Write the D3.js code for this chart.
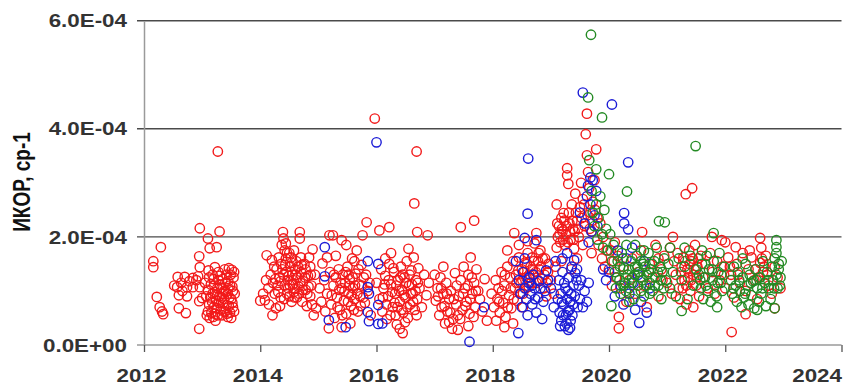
<!DOCTYPE html>
<html>
<head>
<meta charset="utf-8">
<script src="https://cdn.jsdelivr.net/npm/d3@7"></script>
<style>
  body { margin: 0; background: #fff; }
  svg text { font-family: "Liberation Sans", Arial, sans-serif; }
  .tick-label { font-size: 17.5px; font-weight: bold; fill: #333; }
  .title { font-size: 19px; font-weight: bold; fill: #111; }
  .dot { fill: none; stroke-width: 1.4; }
</style>
</head>
<body>
<div id="chart"></div>
<script>
// values are [year, ИКОР in units of 1e-4]
var redPts = [
  [2012.16,1.55],[2012.16,1.44],[2012.29,1.81],[2012.22,0.89],[2012.27,0.70],[2012.33,0.57],[2012.31,0.62],
  [2012.58,1.26],[2012.70,1.26],[2012.57,1.07],[2012.74,1.07],[2012.60,0.92],[2012.74,0.90],[2012.84,1.07],
  [2012.84,1.24],[2012.64,1.15],[2012.78,1.18],[2012.66,1.00],[2012.52,1.10],[2012.96,1.07],[2012.93,1.27],
  [2012.96,1.44],[2012.95,1.64],[2013.10,1.97],[2013.13,1.79],[2013.25,1.81],[2013.30,2.10],[2012.96,2.16],
  [2013.22,1.44],[2012.60,0.68],[2012.72,0.59],[2012.95,0.30],[2012.95,0.81],[2013.00,0.87],[2013.27,3.58],
  [2012.90,1.20],[2013.05,1.15],
  [2013.08,0.55],[2013.10,0.62],[2013.12,0.75],[2013.14,0.88],[2013.10,1.02],[2013.15,1.12],[2013.18,0.95],
  [2013.20,0.70],[2013.22,0.58],[2013.24,0.82],[2013.26,1.05],[2013.28,1.20],[2013.30,0.90],[2013.32,0.66],
  [2013.34,0.55],[2013.36,0.78],[2013.38,1.00],[2013.40,1.15],[2013.42,1.30],[2013.44,0.95],[2013.46,0.72],
  [2013.48,0.60],[2013.50,0.85],[2013.52,1.08],[2013.54,1.25],[2013.46,1.42],[2013.51,1.39],[2013.53,0.70],
  [2013.44,0.52],[2013.13,0.50],[2013.27,0.55],[2013.18,1.30],[2013.28,1.35],[2013.35,1.22],[2013.40,0.62],
  [2013.48,1.10],[2013.56,0.95],[2013.20,1.22],[2013.33,1.05],[2013.45,1.18],[2013.38,0.85],[2013.25,0.68],
  [2013.16,0.60],[2013.50,0.50],[2013.42,0.74],[2013.30,1.12],[2013.55,1.35],[2013.12,1.25],[2013.22,0.98],
  [2013.36,0.95],
  [2013.07,0.90],[2013.11,1.38],[2013.17,0.80],[2013.21,1.10],[2013.23,0.45],[2013.29,0.78],[2013.31,1.28],
  [2013.37,0.62],[2013.39,1.40],[2013.41,0.98],[2013.43,0.58],[2013.47,0.88],[2013.49,1.30],[2013.53,1.00],
  [2013.55,0.62],[2013.26,0.92],[2013.34,0.88],[2013.19,0.52],[2013.52,0.78],[2013.45,1.05],
  [2014.00,0.82],[2014.05,0.95],[2014.08,0.83],[2014.11,1.66],[2014.20,1.57],[2014.21,0.55],[2014.27,0.68],
  [2014.10,1.20],[2014.14,1.05],[2014.18,1.30],[2014.22,1.15],[2014.25,0.95],[2014.28,1.40],[2014.30,1.10],
  [2014.33,1.25],[2014.35,0.88],[2014.36,1.50],[2014.39,2.09],[2014.40,1.97],[2014.37,1.85],[2014.42,1.75],
  [2014.44,1.60],[2014.45,1.35],[2014.47,1.20],[2014.48,1.05],[2014.50,0.90],[2014.52,1.45],[2014.53,1.62],
  [2014.55,1.30],[2014.56,1.12],[2014.58,0.98],[2014.60,1.40],[2014.62,1.55],[2014.64,1.25],[2014.66,1.08],
  [2014.68,2.09],[2014.68,1.97],[2014.70,1.35],[2014.72,0.80],[2014.74,1.18],[2014.76,1.50],[2014.78,1.02],
  [2014.80,0.72],[2014.82,1.28],[2014.84,1.62],[2014.86,0.90],[2014.88,1.10],[2014.90,1.77],[2014.92,0.55],
  [2014.94,1.30],[2014.96,0.68],[2014.40,1.30],[2014.46,0.95],[2014.54,0.80],[2014.32,1.62],[2014.42,1.10],
  [2014.58,1.75],[2014.63,0.88],[2014.70,1.62],[2014.24,1.45],[2014.15,0.75],[2014.34,0.72],[2014.50,1.70],
  [2014.78,1.40],[2014.86,1.45],
  [2014.31,0.98],[2014.35,1.18],[2014.38,1.40],[2014.41,0.85],[2014.43,1.48],[2014.46,1.70],[2014.49,1.28],
  [2014.51,1.10],[2014.54,1.52],[2014.57,1.20],[2014.59,0.88],[2014.61,1.30],[2014.65,1.45],[2014.67,0.95],
  [2014.69,1.15],[2014.71,1.48],[2014.73,1.02],[2014.77,1.25],[2014.81,0.95],[2014.83,1.08],[2014.87,1.30],
  [2014.89,0.75],[2014.26,1.22],[2014.44,1.88],[2014.60,1.05],
  [2015.07,1.51],[2015.02,1.05],[2015.05,0.80],[2015.19,2.03],[2015.25,2.03],[2015.40,1.94],[2015.76,2.03],
  [2015.83,2.27],[2015.10,1.20],[2015.12,0.62],[2015.15,0.95],[2015.20,1.35],[2015.22,0.75],[2015.26,1.10],
  [2015.28,0.50],[2015.30,1.25],[2015.32,0.88],[2015.35,1.40],[2015.37,0.65],[2015.40,1.05],[2015.42,1.30],
  [2015.44,0.82],[2015.46,1.15],[2015.48,0.58],[2015.50,1.45],[2015.52,0.95],[2015.54,1.22],[2015.56,0.72],
  [2015.58,1.60],[2015.60,1.05],[2015.62,0.85],[2015.64,1.32],[2015.66,1.75],[2015.68,0.62],[2015.70,1.12],
  [2015.72,0.90],[2015.74,1.48],[2015.78,1.25],[2015.80,0.78],[2015.85,1.00],[2015.90,0.55],[2015.18,0.31],
  [2015.40,0.33],[2015.30,1.65],[2015.48,1.85],[2015.55,0.40],[2015.62,1.55],[2015.36,1.02],[2015.52,1.30],
  [2015.15,1.62],
  [2015.23,0.92],[2015.27,1.30],[2015.33,0.70],[2015.38,1.15],[2015.41,0.55],[2015.45,1.00],[2015.47,1.35],
  [2015.51,0.80],[2015.53,1.10],[2015.57,0.92],[2015.59,1.25],[2015.61,0.65],[2015.63,1.10],[2015.67,0.95],
  [2015.69,1.40],[2015.73,0.72],[2015.75,1.10],[2015.77,0.88],[2015.82,1.30],[2015.88,1.15],
  [2015.97,4.19],[2016.69,3.58],[2016.65,2.62],[2016.05,2.12],[2016.22,2.18],[2016.70,2.09],[2016.88,2.03],
  [2016.45,0.22],[2016.00,1.15],[2016.05,0.85],[2016.08,1.40],[2016.10,0.62],[2016.12,1.05],[2016.15,1.28],
  [2016.18,0.48],[2016.20,0.90],[2016.22,1.50],[2016.25,1.12],[2016.28,0.70],[2016.30,1.35],[2016.32,0.95],
  [2016.35,0.38],[2016.37,1.20],[2016.40,0.80],[2016.42,1.45],[2016.44,1.02],[2016.46,0.60],[2016.48,1.25],
  [2016.50,0.88],[2016.52,1.55],[2016.54,0.50],[2016.56,1.10],[2016.58,0.75],[2016.60,1.38],[2016.62,0.95],
  [2016.64,1.62],[2016.66,0.65],[2016.68,1.20],[2016.70,0.85],[2016.72,1.42],[2016.74,1.05],[2016.78,0.70],
  [2016.82,1.30],[2016.86,0.92],[2016.90,1.15],[2016.40,0.30],[2016.25,1.70],[2016.55,1.78],[2016.33,0.55],
  [2016.15,1.60],
  [2016.11,0.88],[2016.14,1.12],[2016.17,0.75],[2016.21,1.20],[2016.24,0.55],[2016.27,0.98],[2016.29,1.42],
  [2016.31,0.78],[2016.34,1.10],[2016.36,0.70],[2016.39,1.00],[2016.41,1.25],[2016.43,0.65],[2016.45,1.30],
  [2016.47,0.92],[2016.49,0.42],[2016.51,1.15],[2016.53,0.70],[2016.57,1.30],[2016.59,0.95],[2016.61,1.12],
  [2016.63,0.80],[2016.67,1.00],[2016.69,0.55],[2016.71,1.15],
  [2017.45,2.18],[2017.68,2.30],[2017.00,1.30],[2017.02,0.82],[2017.05,1.05],[2017.08,0.55],[2017.10,1.25],
  [2017.12,0.70],[2017.15,0.95],[2017.18,0.40],[2017.20,1.15],[2017.22,0.62],[2017.25,0.85],[2017.28,1.00],
  [2017.30,0.30],[2017.32,0.48],[2017.35,1.33],[2017.37,0.75],[2017.40,0.55],[2017.42,0.90],[2017.45,1.20],
  [2017.48,0.65],[2017.50,1.45],[2017.52,1.05],[2017.55,0.80],[2017.58,1.30],[2017.60,0.58],[2017.62,1.62],
  [2017.65,0.95],[2017.68,1.15],[2017.70,0.70],[2017.72,1.40],[2017.75,1.00],[2017.78,0.85],[2017.82,0.62],
  [2017.86,1.22],[2017.90,0.45],[2017.40,0.28],[2017.25,0.42],[2017.58,0.35],[2017.15,1.45],
  [2017.06,0.90],[2017.11,1.05],[2017.17,0.72],[2017.21,0.95],[2017.27,0.60],[2017.33,0.85],[2017.38,1.10],
  [2017.44,0.48],[2017.49,0.95],[2017.53,0.72],[2017.57,1.10],[2017.61,0.85],[2017.64,1.25],[2017.67,0.52],
  [2017.71,1.00],
  [2018.37,2.07],[2018.75,2.07],[2017.98,0.95],[2018.02,0.70],[2018.05,1.20],[2018.06,0.45],[2018.08,0.85],
  [2018.10,1.05],[2018.12,0.60],[2018.15,1.35],[2018.18,0.78],[2018.20,1.10],[2018.22,0.52],[2018.25,1.45],
  [2018.28,0.92],[2018.30,1.25],[2018.32,0.68],[2018.35,1.55],[2018.38,1.05],[2018.40,1.30],[2018.42,0.82],
  [2018.45,1.62],[2018.48,1.15],[2018.50,1.40],[2018.52,0.95],[2018.55,1.52],[2018.58,1.25],[2018.60,1.70],
  [2018.62,1.08],[2018.65,1.45],[2018.68,1.62],[2018.70,1.30],[2018.72,1.88],[2018.75,1.15],[2018.78,1.55],
  [2018.80,1.40],[2018.82,1.75],[2018.85,1.22],[2018.88,1.05],[2018.90,1.60],[2018.92,0.90],[2018.95,1.35],
  [2018.35,0.40],[2018.20,0.33],[2018.60,1.92],[2018.45,1.85],[2018.25,1.75],[2018.52,0.70],
  [2018.11,0.80],[2018.16,1.00],[2018.21,1.30],[2018.26,0.70],[2018.31,1.05],[2018.36,0.85],[2018.41,1.15],
  [2018.44,1.38],[2018.47,0.95],[2018.51,1.20],[2018.54,1.35],[2018.57,1.05],[2018.59,1.50],[2018.63,1.30],
  [2018.66,1.15],[2018.69,1.40],[2018.71,1.55],[2018.74,1.35],[2018.77,1.20],[2018.79,1.70],[2018.83,1.45],
  [2018.86,1.60],[2018.89,1.30],[2018.93,1.15],[2018.96,1.50],
  [2019.00,1.20],[2019.05,0.95],[2019.08,1.45],[2019.10,1.80],[2019.12,2.00],[2019.14,2.20],[2019.16,1.90],
  [2019.18,2.35],[2019.20,2.10],[2019.22,2.44],[2019.24,1.85],[2019.26,2.05],[2019.28,3.27],[2019.28,3.14],
  [2019.30,2.98],[2019.32,2.25],[2019.34,1.95],[2019.36,2.60],[2019.38,2.15],[2019.40,1.78],[2019.42,2.80],
  [2019.45,2.30],[2019.48,2.00],[2019.50,2.55],[2019.52,3.00],[2019.55,2.70],[2019.58,2.20],[2019.60,3.90],
  [2019.62,4.28],[2019.62,3.51],[2019.64,3.20],[2019.66,2.90],[2019.68,2.45],[2019.70,2.10],[2019.72,2.65],
  [2019.75,3.05],[2019.78,3.62],[2019.80,2.35],[2019.82,1.85],[2019.85,2.25],[2019.88,1.60],[2019.90,2.00],
  [2019.93,1.45],[2019.96,1.75],[2019.18,1.55],[2019.35,1.40],[2019.10,2.60],[2019.45,1.60],[2019.55,1.85],
  [2019.70,1.70],
  [2019.11,2.25],[2019.15,2.05],[2019.19,2.15],[2019.21,1.95],[2019.23,2.30],[2019.27,2.20],[2019.29,1.90],
  [2019.31,2.45],[2019.33,2.10],[2019.37,2.30],[2019.39,1.95],[2019.41,2.10],[2019.43,2.45],[2019.47,2.15],
  [2019.53,2.35],[2019.57,2.60],[2019.63,2.40],[2019.67,2.15],[2019.71,2.30],[2019.76,2.50],
  [2020.57,2.09],[2021.43,2.90],[2021.32,2.79],[2020.17,0.52],[2020.17,0.31],[2022.11,0.24],[2022.35,0.57],
  [2021.77,2.00],[2021.94,1.94],[2022.00,1.90],[2022.18,1.81],[2022.60,1.98],[2022.85,0.68],
  [2020.00,1.40],[2020.03,1.75],[2020.05,1.10],[2020.08,1.55],[2020.10,1.90],[2020.12,1.25],[2020.15,1.65],
  [2020.20,1.05],[2020.25,1.45],[2020.30,0.80],[2020.35,1.20],[2020.40,1.60],[2020.45,0.95],[2020.50,1.35],
  [2020.55,1.75],[2020.60,1.10],[2020.65,0.70],[2020.70,1.50],[2020.75,1.25],[2020.80,1.85],[2020.85,0.90],
  [2020.90,1.40],[2020.95,1.65],[2021.00,1.15],[2021.05,1.80],[2021.08,0.95],[2021.12,1.55],[2021.15,1.30],
  [2021.18,1.70],[2021.20,1.05],[2021.22,0.85],[2021.25,1.45],[2021.28,1.62],[2021.30,1.20],[2021.33,0.75],
  [2021.35,1.40],[2021.38,1.75],[2021.40,1.00],[2021.42,1.55],[2021.45,1.30],[2021.48,1.85],[2021.50,1.10],
  [2021.52,1.45],[2021.55,0.90],[2021.58,1.65],[2021.62,1.25],[2021.66,1.50],[2021.70,1.05],[2021.74,1.70],
  [2021.78,1.35],[2021.82,0.95],[2021.86,1.55],[2021.90,1.20],[2021.95,1.45],[2022.00,1.05],[2022.05,1.62],
  [2022.10,1.30],[2022.15,0.88],[2022.20,1.50],[2022.25,1.15],[2022.30,1.70],[2022.35,1.00],[2022.40,1.40],
  [2022.45,1.62],[2022.50,1.20],[2022.55,0.85],[2022.60,1.52],[2022.65,1.35],[2022.70,1.65],[2022.75,1.10],
  [2022.80,0.95],[2022.85,1.45],[2022.90,1.25],[2022.95,1.05],[2021.33,1.10],[2021.45,0.70],[2022.62,1.80],
  [2022.42,1.75],[2021.10,2.00],
  [2021.24,1.35],[2021.27,1.05],[2021.31,1.55],[2021.36,1.25],[2021.39,1.50],[2021.41,1.20],[2021.44,1.60],
  [2021.47,1.40],[2021.51,1.25],[2021.54,1.60],[2022.52,1.40],[2022.57,1.25],[2022.63,1.60],[2022.67,1.45],
  [2022.72,1.30],[2021.98,1.30],[2022.08,1.45],[2022.22,1.30],[2020.85,1.60],[2020.92,1.20]
];

var bluePts = [
  [2015.11,1.81],[2015.11,1.27],[2015.18,0.46],[2015.47,0.33],[2015.85,1.55],[2016.03,1.50],[2015.85,1.07],
  [2015.87,0.95],[2016.03,0.74],[2015.85,0.61],[2015.87,0.44],[2016.03,0.39],[2016.10,0.40],[2016.00,3.75],
  [2017.60,0.06],[2017.85,0.70],[2018.44,0.22],[2018.60,2.43],[2018.61,3.45],[2018.55,1.98],[2018.75,1.94],
  [2018.45,1.20],[2018.48,0.95],[2018.50,0.70],[2018.52,1.35],[2018.55,1.05],[2018.58,0.85],[2018.60,0.55],
  [2018.62,1.15],[2018.65,0.95],[2018.68,0.75],[2018.70,1.30],[2018.72,1.05],[2018.75,0.60],[2018.78,0.88],
  [2018.80,1.18],[2018.85,0.48],[2018.90,1.00],[2018.92,1.38],[2018.55,1.60],[2018.40,1.55],
  [2018.63,1.25],[2018.67,1.10],[2018.73,0.85],[2018.82,1.05],[2018.87,0.80],[2018.95,1.20],
  [2019.00,1.05],[2019.05,0.70],[2019.08,1.55],[2019.12,0.85],[2019.14,1.20],[2019.15,0.60],[2019.17,0.95],
  [2019.18,0.45],[2019.20,1.35],[2019.22,0.75],[2019.24,0.35],[2019.25,1.05],[2019.26,0.55],[2019.28,0.85],
  [2019.30,0.28],[2019.31,1.25],[2019.32,0.65],[2019.34,0.45],[2019.35,0.95],[2019.36,1.45],[2019.38,0.75],
  [2019.40,1.57],[2019.42,1.33],[2019.45,1.40],[2019.48,1.10],[2019.50,0.85],[2019.52,1.20],[2019.55,0.70],
  [2019.58,1.00],[2019.62,0.80],[2019.65,1.15],[2019.28,1.70],[2019.20,1.60],
  [2019.16,0.35],[2019.19,0.80],[2019.21,0.55],[2019.23,1.15],[2019.27,0.40],[2019.29,0.62],[2019.29,1.00],
  [2019.33,0.32],[2019.33,0.80],[2019.37,0.55],[2019.39,1.10],[2019.41,0.90],[2019.44,1.20],[2019.46,0.70],
  [2019.55,4.67],[2020.05,4.45],[2019.64,2.95],[2019.68,2.60],[2019.72,3.05],[2019.58,2.25],[2019.70,2.10],
  [2019.75,2.40],[2019.78,2.85],[2019.62,2.75],[2019.50,2.45],[2019.80,2.20],[2019.65,1.90],[2020.33,3.38],
  [2019.68,3.10],
  [2020.26,2.44],[2020.26,2.25],[2020.33,2.14],[2020.52,0.41],[2019.95,1.20],[2020.00,1.35],[2020.10,0.90],
  [2020.20,1.10],[2020.25,0.75],[2020.30,1.60],[2020.35,0.95],[2020.40,1.80],[2020.45,0.65],[2020.50,1.30],
  [2020.55,0.80],[2020.60,1.55],[2020.65,0.60],[2020.70,1.05],[2020.15,1.75],[2020.42,1.15],[2019.90,1.40]
];

var greenPts = [
  [2019.69,5.74],[2019.64,4.58],[2019.88,4.21],[2021.49,3.68],[2019.66,3.42],[2019.78,3.25],[2020.00,3.16],
  [2020.31,2.84],[2020.86,2.29],[2020.96,2.27],[2021.80,2.07],[2022.88,1.94],[2022.88,1.81],[2021.86,0.70],
  [2022.85,0.68],[2020.04,0.72],[2021.25,0.63],
  [2019.70,2.85],[2019.72,2.45],[2019.75,2.20],[2019.78,2.60],[2019.80,1.95],[2019.82,2.35],[2019.85,2.75],
  [2019.88,2.05],[2019.90,1.80],[2019.92,2.50],[2019.95,2.15],[2019.98,1.75],[2020.02,2.05],[2020.05,1.55],
  [2020.08,1.85],
  [2020.10,1.35],[2020.12,1.05],[2020.15,1.55],[2020.18,1.20],[2020.20,0.95],[2020.22,1.70],[2020.25,1.40],
  [2020.28,1.15],[2020.30,1.85],[2020.32,1.30],[2020.35,1.05],[2020.38,1.55],[2020.40,1.25],[2020.42,0.85],
  [2020.45,1.45],[2020.48,1.65],[2020.50,1.10],[2020.52,1.35],[2020.55,1.55],[2020.58,1.20],[2020.60,0.90],
  [2020.62,1.45],[2020.65,1.30],[2020.68,1.70],[2020.70,1.15],[2020.72,1.40],[2020.75,1.00],[2020.78,1.55],
  [2020.80,1.25],[2020.82,1.80],[2020.85,1.10],[2020.88,1.45],[2020.90,0.85],[2020.92,1.35],[2020.95,1.60],
  [2020.98,1.20],[2020.45,1.85],[2020.60,1.75],[2020.35,0.80],[2020.70,0.95],[2020.55,1.00],[2020.25,1.10],
  [2020.14,1.25],[2020.19,1.45],[2020.24,1.60],[2020.29,1.00],[2020.34,1.40],[2020.39,1.15],[2020.44,1.30],
  [2020.49,1.45],[2020.54,1.25],[2020.59,1.50],[2020.64,1.10],[2020.69,1.35],[2020.74,1.50],[2020.79,1.10],
  [2020.84,1.35],[2020.89,1.20],[2020.94,1.05],
  [2021.02,1.50],[2021.05,1.05],[2021.10,1.35],[2021.15,0.90],[2021.20,1.60],[2021.25,1.20],[2021.30,1.45],
  [2021.35,0.85],[2021.40,1.65],[2021.45,1.10],[2021.50,1.40],[2021.05,1.80],[2021.30,1.80],
  [2021.55,1.30],[2021.58,1.05],[2021.60,1.50],[2021.62,0.85],[2021.65,1.25],[2021.68,1.65],[2021.70,1.00],
  [2021.72,1.40],[2021.75,0.80],[2021.78,1.20],[2021.80,1.55],[2021.82,1.10],[2021.85,0.90],[2021.88,1.35],
  [2021.90,1.70],[2021.92,1.15],[2021.95,1.00],[2021.98,1.45],[2021.60,1.75],
  [2021.57,1.20],[2021.67,1.10],[2021.77,1.40],[2021.87,1.15],[2021.93,1.30],
  [2022.10,1.20],[2022.12,0.95],[2022.15,1.45],[2022.18,1.10],[2022.20,0.80],[2022.22,1.35],[2022.25,1.00],
  [2022.28,0.70],[2022.30,1.25],[2022.32,0.88],[2022.35,1.50],[2022.38,1.10],[2022.40,0.75],[2022.42,1.30],
  [2022.45,0.92],[2022.48,1.18],[2022.50,0.68],[2022.52,1.40],[2022.55,1.05],[2022.58,0.80],[2022.60,1.25],
  [2022.62,0.95],[2022.65,1.55],[2022.68,1.15],[2022.70,0.72],[2022.72,1.35],[2022.75,1.05],[2022.78,0.85],
  [2022.80,1.45],[2022.82,1.20],[2022.85,1.60],[2022.88,1.30],[2022.90,1.05],[2022.92,1.50],[2022.95,1.25],
  [2022.88,1.70],[2022.92,1.40],[2022.55,0.65],[2022.30,1.60],
  [2022.14,1.05],[2022.24,1.20],[2022.34,0.95],[2022.44,1.15],[2022.54,1.20],[2022.64,1.05],[2022.74,1.20],
  [2022.84,1.05],[2022.94,1.10],[2022.97,1.55]
];

var xTicks = [2012, 2014, 2016, 2018, 2020, 2022, 2024];
var yTicks = [0, 2e-4, 4e-4, 6e-4];
var yTickLabels = ["0.0E+00", "2.0E-04", "4.0E-04", "6.0E-04"];
var yTitle = "ИКОР, ср-1";

var series = [
    { name: "red", color: "#f21a1a", pts: redPts },
    { name: "blue", color: "#1c1cd6", pts: bluePts },
    { name: "green", color: "#238a23", pts: greenPts }
];

var margin = {top: 20.7, right: 20.5, bottom: 40, left: 144};
var width = 862 - margin.left - margin.right,
    height = 385 - margin.top - margin.bottom;
var stretch = 1.28; // the source text is drawn wide

var svg = d3.select("#chart")
    .append("svg")
    .attr("width", 862)
    .attr("height", 385)
    .append("g")
    .attr("transform", "translate(" + margin.left + "," + margin.top + ")");

var xScale = d3.scaleLinear().domain([2012, 2024]).range([0, width]);
var yScale = d3.scaleLinear().domain([0, 6e-4]).range([height, 0]);

// grid lines (the 0 line is the x axis itself)
svg.selectAll(".grid")
    .data(yTicks.slice(1))
    .enter().append("line")
    .attr("class", "grid")
    .attr("x1", -7)
    .attr("x2", width)
    .attr("y1", function(d) { return yScale(d); })
    .attr("y2", function(d) { return yScale(d); })
    .attr("stroke", "#4a4a4a")
    .attr("stroke-width", 1.4);

var yAxis = d3.axisLeft(yScale)
    .tickValues(yTicks)
    .tickSize(0)
    .tickPadding(0)
    .tickFormat(function(d, i) { return yTickLabels[i]; });

var yAxisGroup = svg.append("g")
    .attr("class", "y axis")
    .call(yAxis);
yAxisGroup.select(".domain")
    .attr("stroke", "#9a9a9a")
    .attr("stroke-width", 1.5);
yAxisGroup.selectAll("text")
    .attr("class", "tick-label")
    .attr("x", -17 / stretch)
    .attr("dy", "0.35em")
    .attr("transform", "scale(" + stretch + ",1)");

var xAxis = d3.axisBottom(xScale)
    .tickValues(xTicks)
    .tickSize(7)
    .tickPadding(18)
    .tickFormat(d3.format("d"));

var xAxisGroup = svg.append("g")
    .attr("class", "x axis")
    .attr("transform", "translate(0," + height + ")")
    .call(xAxis);
xAxisGroup.select(".domain")
    .attr("d", "M-7,0H" + width)
    .attr("stroke", "#9a9a9a")
    .attr("stroke-width", 1.5);
xAxisGroup.selectAll(".tick line")
    .attr("stroke", "#555")
    .attr("stroke-width", 1.3);
xAxisGroup.selectAll("text")
    .attr("class", "tick-label")
    .attr("x", -3 / stretch)
    .attr("transform", "scale(" + stretch + ",1)");
// last label is pulled in so it stays inside the frame
xAxisGroup.selectAll("text")
    .filter(function(d) { return d === 2024; })
    .attr("text-anchor", "end")
    .attr("x", 0);

svg.append("text")
    .attr("class", "title")
    .attr("text-anchor", "middle")
    .attr("transform", "translate(" + (30 - margin.left) + "," + (182 - margin.top) + ") scale(" + stretch + ",1) rotate(-90)")
    .text(yTitle);

series.forEach(function(s) {
    svg.append("g")
        .attr("class", "series " + s.name)
        .selectAll("circle")
        .data(s.pts)
        .enter().append("circle")
        .attr("class", "dot")
        .attr("cx", function(d) { return xScale(d[0]); })
        .attr("cy", function(d) { return yScale(d[1] * 1e-4); })
        .attr("r", 4.7)
        .attr("stroke", s.color);
});
</script>
</body>
</html>
